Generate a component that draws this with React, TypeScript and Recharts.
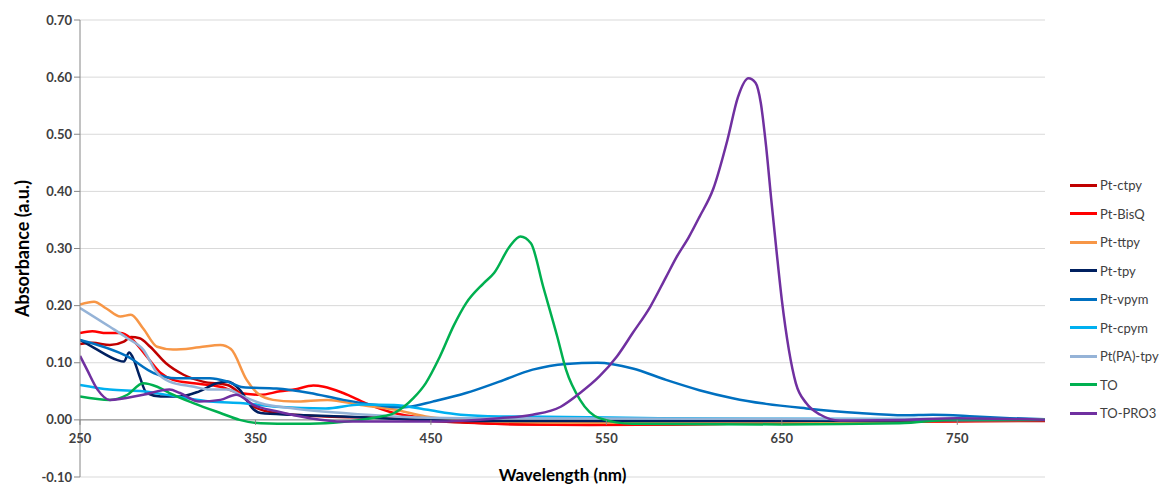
import React from "react"
import { LineChart, Line, XAxis, YAxis, CartesianGrid, ReferenceLine } from "recharts"

document.body.style.margin = "0"

// wavelength (nm), absorbance (a.u.) pairs
const ptCtpy = [[250,0.133],[257,0.135],[267,0.131],[275,0.137],[279,0.145],[284,0.143],[290,0.128],[299,0.099],[309,0.079],[320,0.067],[334,0.061],[341,0.047],[349,0.023],[362,0.012],[390,0.006],[428,0.003],[450,-0.002],[480,-0.006],[520,-0.008],[580,-0.008],[640,-0.006],[700,-0.004],[760,-0.002],[800,-0.002]]
const ptBisQ = [[250,0.152],[257,0.155],[265,0.152],[273,0.152],[279,0.143],[288,0.111],[296,0.082],[303,0.070],[315,0.064],[330,0.058],[341,0.047],[353,0.044],[364,0.050],[372,0.053],[383,0.060],[389,0.058],[400,0.047],[413,0.029],[429,0.012],[447,0.003],[470,-0.004],[500,-0.008],[540,-0.009],[580,-0.008],[640,-0.006],[700,-0.004],[800,-0.001]]
const ptTtpy = [[250,0.202],[258,0.207],[265,0.195],[273,0.181],[279,0.184],[286,0.160],[294,0.128],[303,0.123],[318,0.127],[330,0.131],[336,0.124],[345,0.070],[351,0.047],[360,0.035],[372,0.032],[391,0.035],[410,0.026],[429,0.018],[447,0.006],[480,-0.002],[530,-0.005],[600,-0.005],[700,-0.003],[800,0.0]]
const ptTpy = [[250,0.140],[258,0.126],[271,0.105],[275,0.102],[278,0.118],[280,0.110],[284,0.076],[288,0.047],[296,0.041],[307,0.041],[318,0.050],[328,0.064],[334,0.067],[341,0.053],[349,0.018],[353,0.012],[371,0.009],[400,0.006],[428,0.002],[480,-0.002],[600,-0.002],[800,0.0]]
const ptVpym = [[250,0.140],[277,0.111],[292,0.082],[305,0.073],[324,0.073],[334,0.067],[343,0.057],[362,0.055],[381,0.047],[400,0.035],[419,0.026],[432,0.022],[438,0.023],[451,0.032],[470,0.047],[489,0.067],[508,0.088],[527,0.098],[545,0.100],[565,0.090],[584,0.070],[603,0.052],[622,0.038],[641,0.028],[664,0.020],[694,0.012],[720,0.008],[736,0.009],[760,0.006],[780,0.003],[800,0.001]]
const ptCpym = [[250,0.061],[267,0.053],[286,0.050],[305,0.041],[324,0.032],[343,0.029],[362,0.023],[390,0.020],[410,0.027],[429,0.026],[447,0.018],[467,0.009],[489,0.006],[527,0.005],[580,0.003],[650,0.002],[800,0.001]]
const ptPaTpy = [[250,0.196],[267,0.163],[277,0.143],[286,0.123],[294,0.082],[301,0.067],[315,0.058],[324,0.053],[334,0.053],[343,0.041],[353,0.029],[372,0.020],[400,0.012],[429,0.006],[470,0.003],[600,0.002],[800,0.001]]
const to = [[250,0.041],[267,0.035],[277,0.044],[286,0.064],[294,0.058],[301,0.047],[315,0.029],[330,0.012],[341,0.0],[353,-0.006],[372,-0.007],[390,-0.006],[410,0.0],[420,0.005],[429,0.012],[440,0.038],[447,0.064],[455,0.110],[463,0.165],[470,0.204],[480,0.239],[486,0.257],[495,0.304],[501,0.321],[507,0.309],[514,0.233],[522,0.146],[527,0.088],[535,0.035],[546,0.003],[565,-0.007],[650,-0.008],[717,-0.006],[750,0.001],[800,0.0]]
const toPro3 = [[250,0.112],[254,0.088],[260,0.053],[267,0.035],[286,0.044],[301,0.053],[307,0.047],[318,0.032],[330,0.035],[339,0.044],[349,0.026],[362,0.015],[381,0.003],[400,-0.003],[451,-0.003],[489,0.003],[508,0.009],[524,0.023],[535,0.047],[546,0.076],[556,0.111],[565,0.152],[575,0.198],[584,0.250],[590,0.285],[597,0.320],[603,0.355],[611,0.405],[619,0.490],[625,0.565],[631,0.598],[635,0.590],[638,0.555],[641,0.480],[644,0.385],[647,0.295],[650,0.210],[654,0.123],[658,0.064],[664,0.029],[672,0.009],[683,-0.001],[720,0.0],[750,0.003],[800,0.0]]

const seriesNames = ["Pt-ctpy", "Pt-BisQ", "Pt-ttpy", "Pt-tpy", "Pt-vpym", "Pt-cpym", "Pt(PA)-tpy", "TO", "TO-PRO3"]
const seriesValues = [ptCtpy, ptBisQ, ptTtpy, ptTpy, ptVpym, ptCpym, ptPaTpy, to, toPro3]
const seriesColors = ["#C00000", "#FF0000", "#F79646", "#002060", "#0070C0", "#00B0F0", "#95B3D7", "#00B050", "#7030A0"]

const xTicks = [250, 350, 450, 550, 650, 750]
const yTicks = [-0.1, 0, 0.1, 0.2, 0.3, 0.4, 0.5, 0.6, 0.7]

const W = 1163
const H = 488
const TOP = 20
const PLOT_H = 457
const ZERO_Y = TOP + PLOT_H * (0.7 / 0.8)
const FONT = "Lato, 'Liberation Sans', sans-serif"

const XTick = (props: any) => {
  const { x, payload } = props
  return (
    <g>
      <line x1={x} x2={x} y1={ZERO_Y} y2={ZERO_Y + 5} stroke="#868686" />
      <text x={x} y={ZERO_Y + 23} textAnchor="middle" fontSize={13} fontWeight="bold" fill="#404040" fontFamily={FONT}>
        {payload.value}
      </text>
    </g>
  )
}

const YLabel = () => (
  <text
    transform={`translate(22,${TOP + PLOT_H / 2}) rotate(-90)`}
    textAnchor="middle"
    dominantBaseline="central"
    fontSize={18}
    fontWeight="bold"
    fill="#000"
    fontFamily={FONT}
  >
    Absorbance (a.u.)
  </text>
)

export default function App() {
  return (
    <div style={{ position: "relative", width: W, height: H, background: "#fff", overflow: "hidden" }}>
      <LineChart width={W} height={H} margin={{ top: TOP, right: 118, left: 0, bottom: 10 }}>
        <CartesianGrid vertical={false} stroke="#D9D9D9" />
        <XAxis
          type="number"
          dataKey="w"
          domain={[250, 800]}
          ticks={xTicks}
          allowDataOverflow
          axisLine={false}
          tickLine={false}
          tickSize={0}
          height={1}
          tick={<XTick />}
        />
        <YAxis
          type="number"
          domain={[-0.1, 0.7]}
          ticks={yTicks}
          width={80}
          tickFormatter={(v: number) => v.toFixed(2)}
          axisLine={{ stroke: "#868686" }}
          tickLine={{ stroke: "#868686" }}
          tickSize={6}
          tick={{ fontSize: 13, fontWeight: "bold", fill: "#404040", fontFamily: FONT }}
          label={{ content: <YLabel /> }}
        />
        <ReferenceLine y={0} stroke="#868686" />
        {seriesNames.map((name, i) => (
          <Line
            key={name}
            name={name}
            data={seriesValues[i].map(([w, a]) => ({ w, a }))}
            dataKey="a"
            type="monotone"
            stroke={seriesColors[i]}
            strokeWidth={2.5}
            dot={false}
            isAnimationActive={false}
          />
        ))}
      </LineChart>
      <div
        style={{
          position: "absolute",
          left: 460,
          top: 465,
          width: 205,
          textAlign: "center",
          fontFamily: FONT,
          fontWeight: "bold",
          fontSize: 17,
          lineHeight: "20px",
          color: "#000",
          whiteSpace: "nowrap",
        }}
      >
        Wavelength (nm)
      </div>
      <div style={{ position: "absolute", left: 1070, top: 171, fontFamily: FONT, fontSize: 13, color: "#404040" }}>
        {seriesNames.map((name, i) => (
          <div key={name} style={{ display: "flex", alignItems: "center", height: 28.5 }}>
            <div style={{ width: 27, height: 3, background: seriesColors[i], marginRight: 3 }} />
            <span>{name}</span>
          </div>
        ))}
      </div>
    </div>
  )
}
